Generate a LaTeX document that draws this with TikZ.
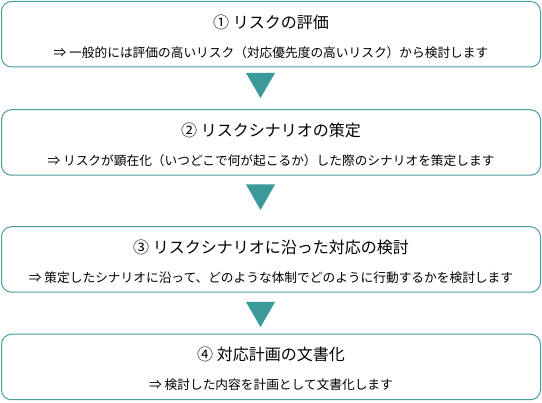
\documentclass[tikz,border=0pt]{standalone}
\usepackage{fontspec}
\setmainfont{Noto Sans CJK JP}
\usetikzlibrary{calc}
\definecolor{tealline}{HTML}{4A9E9E}
\definecolor{tealfill}{HTML}{3A9A9A}
\begin{document}
\begin{tikzpicture}[x=1pt,y=1pt,
  stepbox/.style={draw=tealline, line width=1pt, rounded corners=10pt, fill=white,
    minimum width=539pt, minimum height=65.5pt, inner sep=0pt},
  titletext/.style={font=\fontsize{16}{16}\selectfont, inner sep=0pt, anchor=base},
  subtext/.style={font=\fontsize{12.7}{12.7}\selectfont, inner sep=0pt, anchor=base},
  marker/.style={fill=tealfill, draw=none}]
\fill[white] (0,0) rectangle (542,-403);
\useasboundingbox (0,0) rectangle (542,-403);

\node[stepbox] (b1) at (271,-34.25) {};
\node[stepbox] (b2) at (271,-142.5) {};
\node[stepbox] (b3) at (271,-259.5) {};
\node[stepbox] (b4) at (271,-367) {};

\node[titletext] (t1) at ($(b1.north)+(0,-28)$) {① リスクの評価};
\node[subtext]   (s1) at ($(b1.north)+(0,-57)$) {⇒ 一般的には評価の高いリスク（対応優先度の高いリスク）から検討します};

\node[titletext] (t2) at ($(b2.north)+(0,-27)$) {② リスクシナリオの策定};
\node[subtext]   (s2) at ($(b2.north)+(0,-56)$) {⇒ リスクが顕在化（いつどこで何が起こるか）した際のシナリオを策定します};

\node[titletext] (t3) at ($(b3.north)+(0,-27)$) {③ リスクシナリオに沿った対応の検討};
\node[subtext]   (s3) at ($(b3.north)+(0,-56)$) {⇒ 策定したシナリオに沿って、どのような体制でどのように行動するかを検討します};

\node[titletext] (t4) at ($(b4.north)+(0,-27)$) {④ 対応計画の文書化};
\node[subtext]   (s4) at ($(b4.north)+(0,-56)$) {⇒ 検討した内容を計画として文書化します};

\fill[marker] (246,-73) -- (275,-73) -- (260.5,-98) -- cycle;
\fill[marker] (246,-184.5) -- (275,-184.5) -- (260.5,-210) -- cycle;
\fill[marker] (246,-302) -- (275,-302) -- (260.5,-327) -- cycle;
\end{tikzpicture}
\end{document}
